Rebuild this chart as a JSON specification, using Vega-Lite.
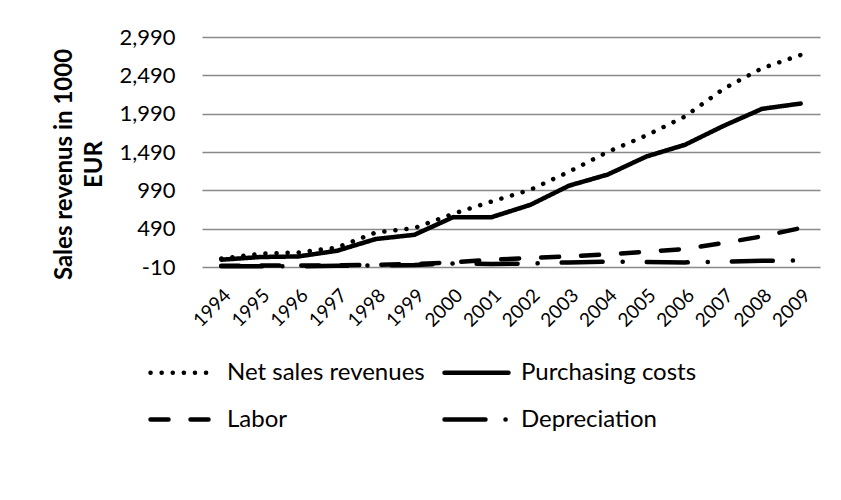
{
  "$schema": "https://vega.github.io/schema/vega-lite/v6.json",
  "width": 618,
  "height": 230,
  "autosize": {"type": "none"},
  "padding": {"left": 202, "top": 37, "right": 21, "bottom": 233},
  "background": "white",
  "config": {
    "font": "Lato",
    "view": {"stroke": null}
  },
  "data": {
    "values": [
      {"year": "1994", "Net sales revenues": 100, "Purchasing costs": 85, "Labor": 5, "Depreciation": 0},
      {"year": "1995", "Net sales revenues": 163, "Purchasing costs": 120, "Labor": 8, "Depreciation": 0},
      {"year": "1996", "Net sales revenues": 180, "Purchasing costs": 128, "Labor": 10, "Depreciation": 0},
      {"year": "1997", "Net sales revenues": 245, "Purchasing costs": 202, "Labor": 12, "Depreciation": 5},
      {"year": "1998", "Net sales revenues": 440, "Purchasing costs": 355, "Labor": 18, "Depreciation": 10},
      {"year": "1999", "Net sales revenues": 498, "Purchasing costs": 410, "Labor": 30, "Depreciation": 15},
      {"year": "2000", "Net sales revenues": 684, "Purchasing costs": 640, "Labor": 50, "Depreciation": 35},
      {"year": "2001", "Net sales revenues": 845, "Purchasing costs": 640, "Labor": 85, "Depreciation": 30},
      {"year": "2002", "Net sales revenues": 997, "Purchasing costs": 800, "Labor": 107, "Depreciation": 35},
      {"year": "2003", "Net sales revenues": 1232, "Purchasing costs": 1050, "Labor": 128, "Depreciation": 50},
      {"year": "2004", "Net sales revenues": 1490, "Purchasing costs": 1195, "Labor": 155, "Depreciation": 60},
      {"year": "2005", "Net sales revenues": 1705, "Purchasing costs": 1430, "Labor": 190, "Depreciation": 55},
      {"year": "2006", "Net sales revenues": 1952, "Purchasing costs": 1583, "Labor": 225, "Depreciation": 50},
      {"year": "2007", "Net sales revenues": 2313, "Purchasing costs": 1830, "Labor": 303, "Depreciation": 60},
      {"year": "2008", "Net sales revenues": 2583, "Purchasing costs": 2053, "Labor": 389, "Depreciation": 70},
      {"year": "2009", "Net sales revenues": 2756, "Purchasing costs": 2122, "Labor": 498, "Depreciation": 75}
    ]
  },
  "transform": [
    {"fold": ["Net sales revenues", "Purchasing costs", "Labor", "Depreciation"], "as": ["series", "value"]}
  ],
  "mark": {"type": "line", "color": "black", "strokeWidth": 4.5, "strokeCap": "round", "strokeJoin": "round"},
  "encoding": {
    "x": {
      "field": "year",
      "type": "ordinal",
      "scale": {"type": "point", "padding": 0.5},
      "axis": {
        "title": null,
        "labelAngle": -45,
        "labelAlign": "right",
        "labelBaseline": "middle",
        "labelFont": "Lato",
        "labelFontSize": 19,
        "labelColor": "black",
        "labelPadding": 25,
        "labelOffset": 6,
        "ticks": false,
        "tickSize": 0,
        "domain": false,
        "grid": false
      }
    },
    "y": {
      "field": "value",
      "type": "quantitative",
      "scale": {"domain": [-10, 2990], "nice": false, "zero": false},
      "axis": {
        "values": [-10, 490, 990, 1490, 1990, 2490, 2990],
        "format": ",d",
        "labelExpr": "replace(datum.label, '\u2212', '-')",
        "labelFont": "Lato",
        "labelFontSize": 22,
        "labelColor": "black",
        "labelPadding": 27,
        "ticks": false,
        "tickSize": 0,
        "domain": false,
        "grid": true,
        "gridColor": "#898989",
        "gridWidth": 1.6,
        "title": ["Sales revenus in 1000", "EUR"],
        "titleFont": "Lato",
        "titleFontSize": 24,
        "titleFontWeight": "bold",
        "titleColor": "black",
        "titleLineHeight": 30,
        "titleAngle": -90,
        "titleAlign": "center",
        "titleBaseline": "middle",
        "titleX": -138,
        "titleY": 127
      }
    },
    "strokeDash": {
      "field": "series",
      "type": "nominal",
      "scale": {
        "domain": ["Net sales revenues", "Purchasing costs", "Labor", "Depreciation"],
        "range": [[0.1, 11], [1, 0], [18, 22], [41, 20, 0.1, 24]]
      },
      "legend": {
        "title": null,
        "orient": "none",
        "direction": "horizontal",
        "legendX": -54,
        "legendY": 301,
        "columns": 2,
        "columnPadding": 10,
        "rowPadding": -16,
        "padding": 0,
        "symbolType": "stroke",
        "symbolSize": 4096,
        "symbolStrokeWidth": 4.5,
        "symbolStrokeColor": "black",
        "labelFont": "Lato",
        "labelFontSize": 24,
        "labelColor": "black",
        "labelOffset": 10,
        "labelLimit": 400,
        "encoding": {"symbols": {"strokeCap": {"value": "round"}}}
      }
    }
  }
}
